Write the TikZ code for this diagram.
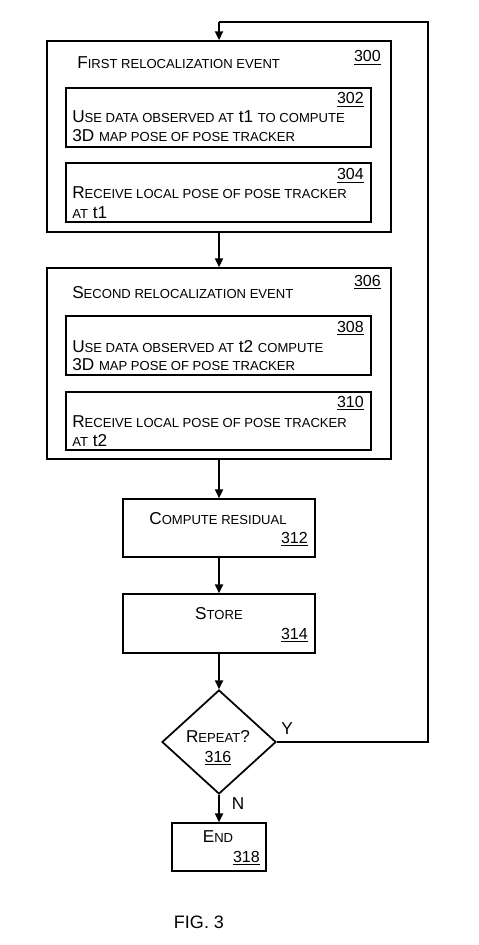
\documentclass[tikz,border=0pt]{standalone}
\usepackage{fontspec}
\setmainfont{Liberation Sans}
\usetikzlibrary{arrows.meta,shapes.geometric}
\newcommand{\smc}[1]{{\fontsize{9.8}{11}\selectfont\MakeUppercase{#1}}}
\newcommand{\refnum}[1]{\underline{#1}}
\begin{document}
\begin{tikzpicture}[x=0.75pt,y=-0.75pt,
  box/.style={draw, line width=1.3pt, inner sep=0pt, rectangle},
  dec/.style={draw, line width=1.3pt, inner sep=0pt, diamond},
  txt/.style={inner sep=0pt, font=\fontsize{12.9}{14}\selectfont},
  num/.style={inner sep=0pt, font=\fontsize{12}{14}\selectfont},
  arr/.style={line width=1.3pt, -{Triangle[length=6.5pt,width=6pt]}},
  ln/.style={line width=1.3pt}]
\useasboundingbox (0,0) rectangle (478,945);
% boxes
\node[box, minimum width=258pt, minimum height=143.25pt] (b300) at (219,136.5) {};
\node[box, minimum width=228.75pt, minimum height=44.25pt] (b302) at (218.5,117.5) {};
\node[box, minimum width=228.75pt, minimum height=44.25pt] (b304) at (218.5,192.5) {};
\node[box, minimum width=258pt, minimum height=143.25pt] (b306) at (219,363.5) {};
\node[box, minimum width=228.75pt, minimum height=44.25pt] (b308) at (218.5,345.5) {};
\node[box, minimum width=228.75pt, minimum height=43.5pt] (b310) at (218.5,421) {};
\node[box, minimum width=144pt, minimum height=43.5pt] (b312) at (219,528) {};
\node[box, minimum width=144pt, minimum height=44.25pt] (b314) at (219,623.5) {};
\node[dec, minimum width=85.5pt, minimum height=78pt] (d316) at (219,742) {};
\node[box, minimum width=70.5pt, minimum height=36pt] (b318) at (219,847) {};
% texts
\node[txt, anchor=base west] (t300) at (77,69) {F\smc{irst relocalization event}};
\node[num, anchor=base east] (n300) at (381,62) {\refnum{300}};
\node[num, anchor=base east] (n302) at (364,104) {\refnum{302}};
\node[txt, anchor=base west] (t302a) at (72,123) {U\smc{se data observed at} t1 \smc{to compute}};
\node[txt, anchor=base west] (t302b) at (72,142) {3D \smc{map pose of pose tracker}};
\node[num, anchor=base east] (n304) at (364,180) {\refnum{304}};
\node[txt, anchor=base west] (t304a) at (72,198) {R\smc{eceive local pose of pose tracker}};
\node[txt, anchor=base west] (t304b) at (72,218) {\smc{at} t1};
\node[txt, anchor=base west] (t306) at (72,298) {S\smc{econd relocalization event}};
\node[num, anchor=base east] (n306) at (381,286) {\refnum{306}};
\node[num, anchor=base east] (n308) at (364,332) {\refnum{308}};
\node[txt, anchor=base west] (t308a) at (72,352) {U\smc{se data observed at} t2 \smc{compute}};
\node[txt, anchor=base west] (t308b) at (72,370) {3D \smc{map pose of pose tracker}};
\node[num, anchor=base east] (n310) at (364,407) {\refnum{310}};
\node[txt, anchor=base west] (t310a) at (72,427) {R\smc{eceive local pose of pose tracker}};
\node[txt, anchor=base west] (t310b) at (72,446) {\smc{at} t2};
\node[txt, anchor=base] (t312) at (218,524) {C\smc{ompute residual}};
\node[num, anchor=base east] (n312) at (308,543) {\refnum{312}};
\node[txt, anchor=base] (t314) at (219,619) {S\smc{tore}};
\node[num, anchor=base east] (n314) at (308,639) {\refnum{314}};
\node[txt, anchor=base] (t316) at (218,742) {R\smc{epeat}?};
\node[num, anchor=base] (n316) at (218,762) {\refnum{316}};
\node[txt, anchor=base] (t318) at (218,842) {E\smc{nd}};
\node[num, anchor=base east] (n318) at (260,862) {\refnum{318}};
\node[txt, anchor=base] (ly) at (287,734) {Y};
\node[txt, anchor=base] (lnn) at (238,809) {N};
\node[inner sep=0pt, anchor=base, font=\fontsize{13.5}{15}\selectfont] (fig) at (199,928) {FIG. 3};
% connectors
\coordinate (c1) at (428,742);
\coordinate (c2) at (428,22);
\coordinate (c3) at (219,22);
\draw[ln] (d316.east) -- (c1) -- (c2) -- (c3);
\draw[arr] (c3) -- (b300.north);
\draw[arr] (b300.south) -- (b306.north);
\draw[arr] (b306.south) -- (b312.north);
\draw[arr] (b312.south) -- (b314.north);
\draw[arr] (b314.south) -- (d316.north);
\draw[arr] (d316.south) -- (b318.north);
\end{tikzpicture}
\end{document}
